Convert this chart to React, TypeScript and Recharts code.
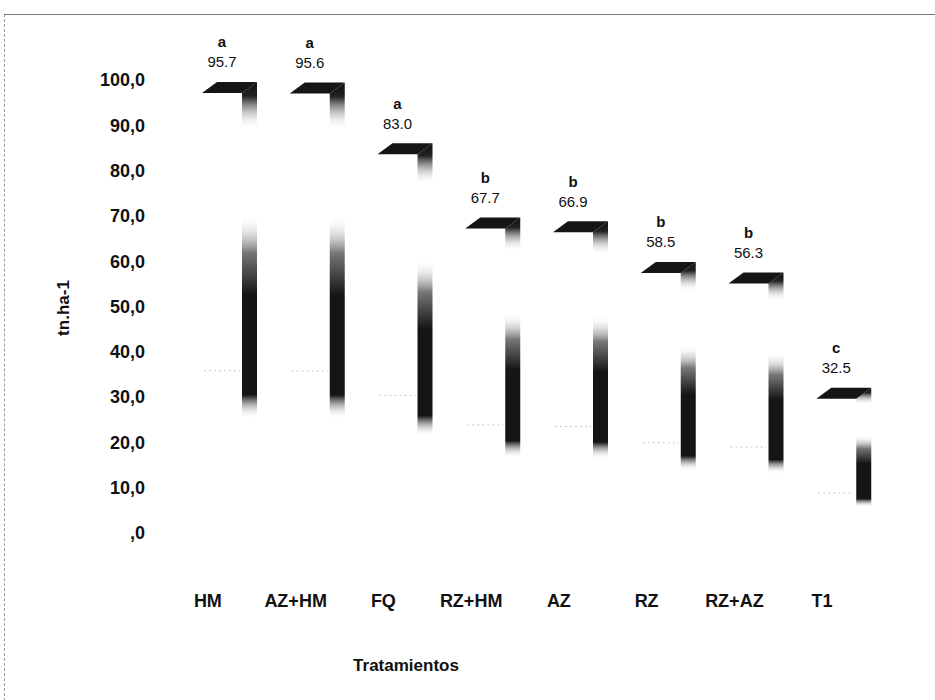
import React from 'react';
import { BarChart, Bar, XAxis, YAxis, LabelList, Label } from 'recharts';

const tratamientos = ['HM', 'AZ+HM', 'FQ', 'RZ+HM', 'AZ', 'RZ', 'RZ+AZ', 'T1'];
const rendimiento = [95.7, 95.6, 83.0, 67.7, 66.9, 58.5, 56.3, 32.5];
const grupos = ['a', 'a', 'a', 'b', 'b', 'b', 'b', 'c'];
const yTicks = [0, 10, 20, 30, 40, 50, 60, 70, 80, 90, 100];

const data = tratamientos.map((t, i) => ({ name: t, value: rendimiento[i], group: grupos[i] }));

const FONT = "Arial, 'Liberation Sans', sans-serif";
// 3D depth of the columns
const DX = 15;
const DY = 11;

const fmtTick = (v: number) => (v === 0 ? ',0' : v.toFixed(1).replace('.', ','));

const Column3D = (props: any) => {
  const { x, y, width, height } = props;
  const bottom = y + height;
  const r = x + width;
  const top = `${x},${y} ${x + DX},${y - DY} ${r + DX},${y - DY} ${r},${y}`;
  const side = `${r},${y} ${r + DX},${y - DY} ${r + DX},${bottom - DY} ${r},${bottom}`;
  const floorY = y + height * 0.6;
  return (
    <g>
      <polygon points={side} fill="url(#sideShade)" />
      <polygon points={top} fill="#151515" />
      <line x1={x + 2} x2={r - 2} y1={floorY} y2={floorY} stroke="#c8c8c8" strokeDasharray="2 3" />
    </g>
  );
};

const ValueLabel = (props: any) => {
  const { x, y, width, value } = props;
  return (
    <text x={x + width / 2} y={y - 31} textAnchor="middle" dominantBaseline="central"
      fontFamily={FONT} fontSize={15} fill="#111">
      {Number(value).toFixed(1)}
    </text>
  );
};

const GroupLabel = (props: any) => {
  const { x, y, width, value } = props;
  return (
    <text x={x + width / 2} y={y - 51} textAnchor="middle" dominantBaseline="central"
      fontFamily={FONT} fontSize={15} fontWeight="bold" fill="#111">
      {value}
    </text>
  );
};

export default function App() {
  return (
    <div style={{ position: 'absolute', left: 0, top: 0, width: 935, height: 700, background: '#fff' }}>
      <div style={{ position: 'absolute', left: 4, top: 14, width: 931, height: 686, borderTop: '1px solid #777', borderLeft: '1px dashed #999' }} />
      <BarChart width={935} height={700} data={data} margin={{ top: 60, right: 55, bottom: 20, left: 0 }}>
        <defs>
          <linearGradient id="sideShade" x1="0" y1="0" x2="0" y2="1">
            <stop offset="0" stopColor="#111" />
            <stop offset="0.03" stopColor="#222" />
            <stop offset="0.1" stopColor="#fff" stopOpacity={0} />
            <stop offset="0.28" stopColor="#fff" stopOpacity={0} />
            <stop offset="0.36" stopColor="#777" />
            <stop offset="0.45" stopColor="#151515" />
            <stop offset="0.66" stopColor="#151515" />
            <stop offset="0.71" stopColor="#fff" stopOpacity={0} />
            <stop offset="1" stopColor="#fff" stopOpacity={0} />
          </linearGradient>
        </defs>
        <XAxis dataKey="name" height={124} axisLine={false} tickLine={false} tickSize={0} tickMargin={38}
          interval={0} tick={{ fontFamily: FONT, fontSize: 18, fontWeight: 'bold', fill: '#111', dx: -14 }}>
          <Label content={() => (
            <text x={406} y={665} textAnchor="middle" dominantBaseline="central"
              fontFamily={FONT} fontSize={17} fontWeight="bold" fill="#111">Tratamientos</text>
          )} />
        </XAxis>
        <YAxis yAxisId="ticks" type="number" domain={[-5.08, 104.4]} allowDataOverflow ticks={yTicks}
          width={178} axisLine={false} tickLine={false} tickSize={0} tickMargin={-27}
          tickFormatter={fmtTick} tick={{ fontFamily: FONT, fontSize: 18, fontWeight: 'bold', fill: '#111' }}>
          <Label content={() => (
            <text x={63} y={308} transform="rotate(-90 63 308)" textAnchor="middle" dominantBaseline="central"
              fontFamily={FONT} fontSize={17} fontWeight="bold" fill="#111">tn.ha-1</text>
          )} />
        </YAxis>
        <YAxis yAxisId="bar" type="number" domain={[0, 102.5]} allowDataOverflow hide />
        <Bar yAxisId="bar" dataKey="value" barSize={40} shape={Column3D} isAnimationActive={false}>
          <LabelList dataKey="value" content={ValueLabel} />
          <LabelList dataKey="group" content={GroupLabel} />
        </Bar>
      </BarChart>
    </div>
  );
}
